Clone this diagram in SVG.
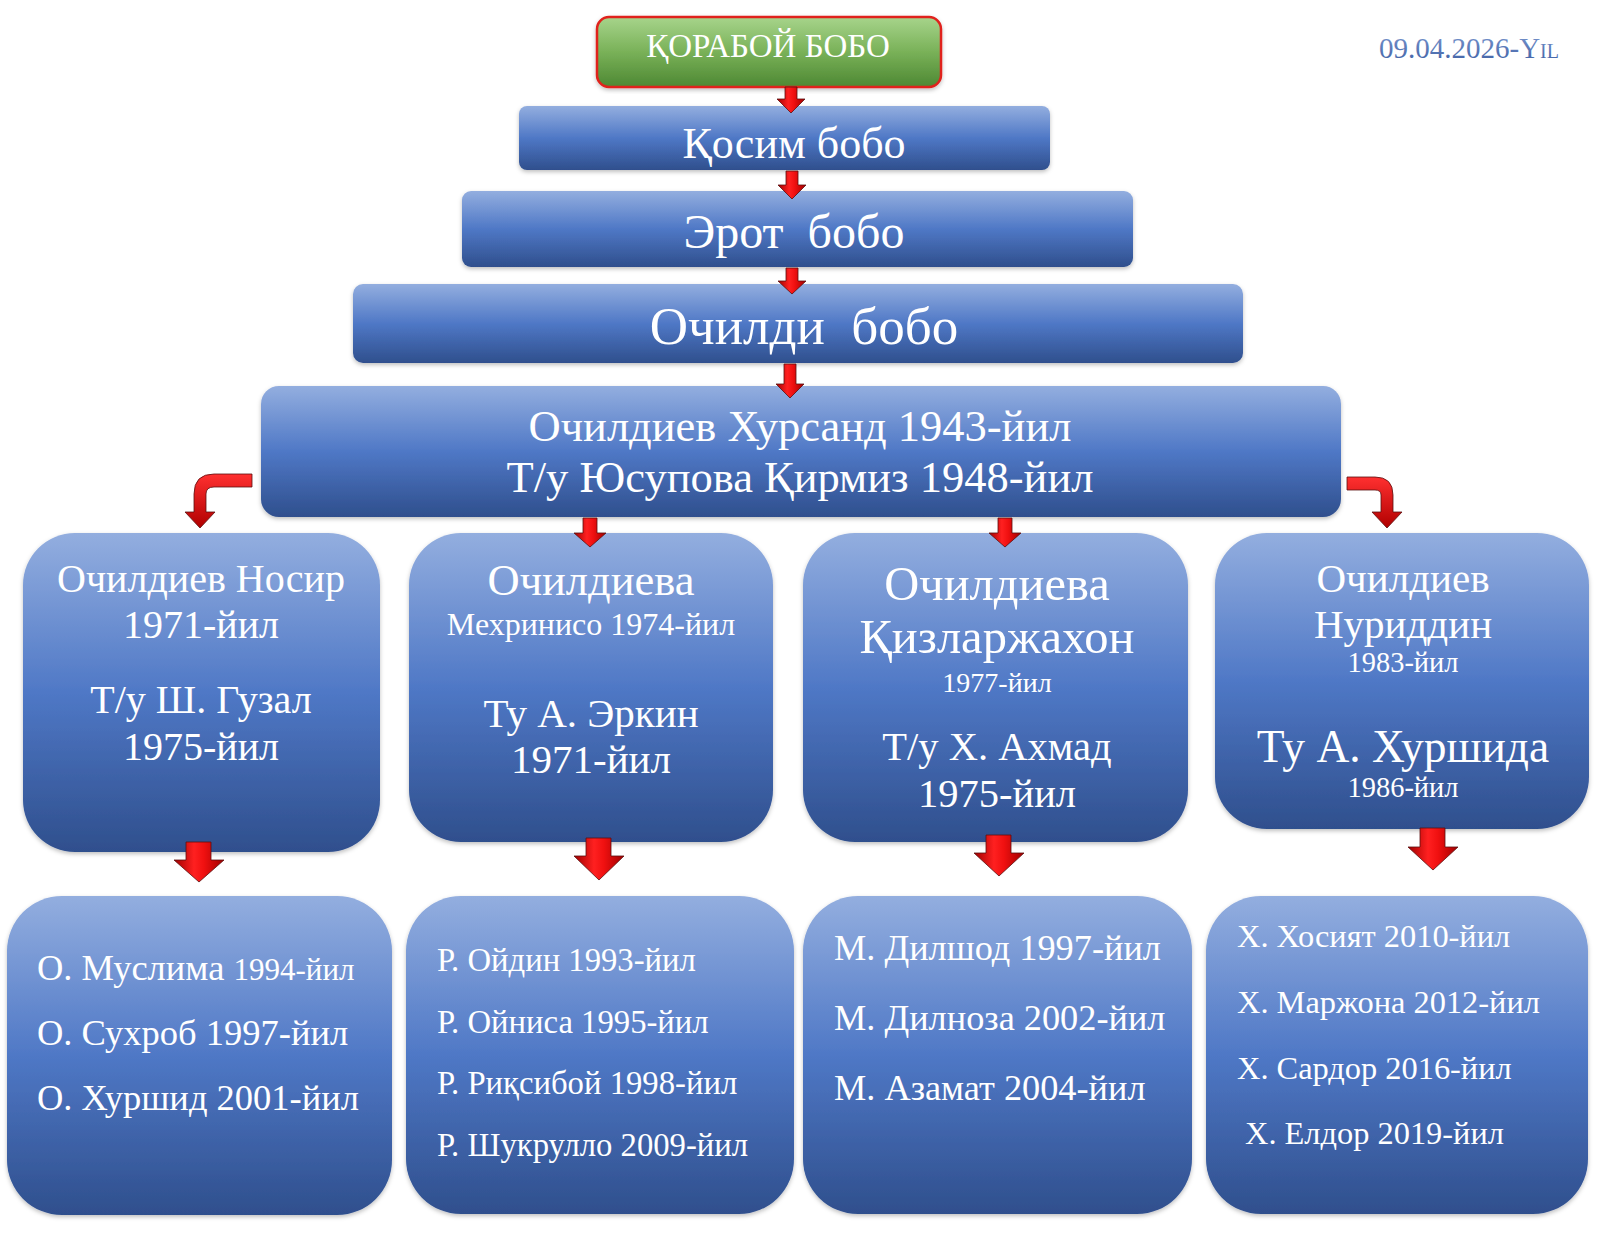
<svg xmlns="http://www.w3.org/2000/svg" width="1600" height="1236" viewBox="0 0 1600 1236">
<defs>
  <linearGradient id="blue" x1="0" y1="0" x2="0" y2="1">
    <stop offset="0" stop-color="#93aedf"/>
    <stop offset="0.5" stop-color="#4f78c6"/>
    <stop offset="1" stop-color="#2f4f8d"/>
  </linearGradient>
  <linearGradient id="green" x1="0" y1="0" x2="0" y2="1">
    <stop offset="0" stop-color="#a7d48b"/>
    <stop offset="0.5" stop-color="#79b158"/>
    <stop offset="1" stop-color="#4e8833"/>
  </linearGradient>
  <linearGradient id="red" x1="0" y1="0" x2="1" y2="0">
    <stop offset="0" stop-color="#a00000"/>
    <stop offset="0.4" stop-color="#ff2020"/>
    <stop offset="0.6" stop-color="#f01010"/>
    <stop offset="1" stop-color="#a00000"/>
  </linearGradient>
  <linearGradient id="redv" x1="0" y1="0" x2="0" y2="1">
    <stop offset="0" stop-color="#ff3030"/>
    <stop offset="1" stop-color="#b00000"/>
  </linearGradient>
  <linearGradient id="date" x1="0" y1="0" x2="0" y2="1">
    <stop offset="0" stop-color="#7b97cf"/>
    <stop offset="1" stop-color="#3d5fa3"/>
  </linearGradient>
  <filter id="sh" x="-5%" y="-5%" width="110%" height="115%">
    <feDropShadow dx="0" dy="2" stdDeviation="2" flood-color="#000" flood-opacity="0.25"/>
  </filter>
</defs>
<style>
  .box { fill: url(#blue); filter: url(#sh); }
  .t { font-family: "Liberation Serif", "Times New Roman", serif; fill: #ffffff; text-anchor: middle; }
  .l { font-family: "Liberation Serif", "Times New Roman", serif; fill: #ffffff; text-anchor: start; }
  .arr { fill: url(#red); stroke: #5a1010; stroke-width: 0.8; }
  .arrc { fill: url(#redv); stroke: #5a1010; stroke-width: 0.8; }
</style>
<rect width="1600" height="1236" fill="#ffffff"/>

<g id="date-label">
  <text x="1469" y="58" font-family="Liberation Serif, serif" font-size="29" font-variant="small-caps" fill="url(#date)" text-anchor="middle">09.04.2026-Yil</text>
</g>

<g id="node-qorabo">
  <rect x="597" y="17" width="344" height="70" rx="12" fill="url(#green)" stroke="#e0201c" stroke-width="2.5" filter="url(#sh)"/>
  <text class="t" x="768" y="57" font-size="33">ҚОРАБОЙ БОБО</text>
</g>
<g id="node-qosim">
  <rect class="box" x="519" y="106" width="531" height="64" rx="8"/>
  <text class="t" x="794" y="158" font-size="44">Қосим бобо</text>
</g>
<g id="node-erot">
  <rect class="box" x="462" y="191" width="671" height="76" rx="9"/>
  <text class="t" x="794" y="248" font-size="48" style="white-space:pre">Эрот  бобо</text>
</g>
<g id="node-ochildi">
  <rect class="box" x="353" y="284" width="890" height="79" rx="10"/>
  <text class="t" x="804" y="344" font-size="53" style="white-space:pre">Очилди  бобо</text>
</g>
<g id="node-xursand">
  <rect class="box" x="261" y="386" width="1080" height="131" rx="18"/>
  <text class="t" x="800" y="441" font-size="44.5">Очилдиев Хурсанд 1943-йил</text>
  <text class="t" x="800" y="492" font-size="44.5">Т/у Юсупова Қирмиз 1948-йил</text>
</g>

<g id="node-nosir">
  <rect class="box" x="23" y="533" width="357" height="319" rx="52"/>
  <text class="t" x="201" y="592" font-size="40">Очилдиев Носир</text>
  <text class="t" x="201" y="638" font-size="40">1971-йил</text>
  <text class="t" x="201" y="713" font-size="40">Т/у Ш. Гузал</text>
  <text class="t" x="201" y="760" font-size="40">1975-йил</text>
</g>
<g id="node-mehriniso">
  <rect class="box" x="409" y="533" width="364" height="309" rx="52"/>
  <text class="t" x="591" y="595" font-size="44.5">Очилдиева</text>
  <text class="t" x="591" y="635" font-size="32">Мехринисо 1974-йил</text>
  <text class="t" x="591" y="727" font-size="41">Ту А. Эркин</text>
  <text class="t" x="591" y="773" font-size="41">1971-йил</text>
</g>
<g id="node-qizlarjaxon">
  <rect class="box" x="803" y="533" width="385" height="309" rx="52"/>
  <text class="t" x="997" y="600" font-size="48.5">Очилдиева</text>
  <text class="t" x="997" y="653" font-size="48.5">Қизларжахон</text>
  <text class="t" x="997" y="692" font-size="28">1977-йил</text>
  <text class="t" x="997" y="760" font-size="40.5">Т/у Х. Ахмад</text>
  <text class="t" x="997" y="807" font-size="40.5">1975-йил</text>
</g>
<g id="node-nuriddin">
  <rect class="box" x="1215" y="533" width="374" height="296" rx="52"/>
  <text class="t" x="1403" y="592" font-size="41">Очилдиев</text>
  <text class="t" x="1403" y="638" font-size="41">Нуриддин</text>
  <text class="t" x="1403" y="672" font-size="28.4">1983-йил</text>
  <text class="t" x="1403" y="762" font-size="45.5">Ту А. Хуршида</text>
  <text class="t" x="1403" y="797" font-size="28.4">1986-йил</text>
</g>

<g id="node-children-nosir">
  <rect class="box" x="7" y="896" width="385" height="319" rx="55"/>
  <text class="l" x="37" y="980" font-size="36.5">О. Муслима <tspan font-size="31">1994-йил</tspan></text>
  <text class="l" x="37" y="1045" font-size="36.5">О. Сухроб 1997-йил</text>
  <text class="l" x="37" y="1110" font-size="36.5">О. Хуршид 2001-йил</text>
</g>
<g id="node-children-mehriniso">
  <rect class="box" x="406" y="896" width="388" height="318" rx="55"/>
  <text class="l" x="437" y="971" font-size="32.7">Р. Ойдин 1993-йил</text>
  <text class="l" x="437" y="1033" font-size="32.7">Р. Ойниса 1995-йил</text>
  <text class="l" x="437" y="1094" font-size="32.7">Р. Риқсибой 1998-йил</text>
  <text class="l" x="437" y="1156" font-size="32.7">Р. Шукрулло 2009-йил</text>
</g>
<g id="node-children-qizlarjaxon">
  <rect class="box" x="803" y="896" width="389" height="318" rx="55"/>
  <text class="l" x="834" y="960" font-size="36.3">М. Дилшод 1997-йил</text>
  <text class="l" x="834" y="1030" font-size="36.3">М. Дилноза 2002-йил</text>
  <text class="l" x="834" y="1100" font-size="36.3">М. Азамат 2004-йил</text>
</g>
<g id="node-children-nuriddin">
  <rect class="box" x="1206" y="896" width="382" height="318" rx="55"/>
  <text class="l" x="1237" y="947" font-size="32.4">Х. Хосият 2010-йил</text>
  <text class="l" x="1237" y="1013" font-size="32.4">Х. Маржона 2012-йил</text>
  <text class="l" x="1237" y="1079" font-size="32.4">Х. Сардор 2016-йил</text>
  <text class="l" x="1245" y="1144" font-size="32.4">Х. Елдор 2019-йил</text>
</g>

<g id="connectors">
  <path class="arr" d="M785 87 h12 v12 h8 l-14 14 l-14 -14 h8 z"/>
  <path class="arr" d="M786 171 h12 v14 h8 l-14 14 l-14 -14 h8 z"/>
  <path class="arr" d="M786 268 h12 v13 h8 l-14 13 l-14 -13 h8 z"/>
  <path class="arr" d="M784 364 h12 v20 h8 l-14 14 l-14 -14 h8 z"/>
  <path class="arrc" d="M252 474 L214 474 Q194 474 194 494 L194 512 L185 512 L200 528 L215 512 L206 512 L206 494 Q206 487 214 487 L252 487 Z"/>
  <path class="arrc" d="M1347 477 L1375 477 Q1393 477 1393 495 L1393 512 L1402 512 L1387 528 L1372 512 L1381 512 L1381 495 Q1381 490 1375 490 L1347 490 Z"/>
  <path class="arr" d="M583 518 h14 v15 h9 l-16 14 l-16 -14 h9 z"/>
  <path class="arr" d="M998 518 h14 v15 h9 l-16 14 l-16 -14 h9 z"/>
  <path class="arr" d="M186 842 h25 v18 h13 l-25 22 l-25 -22 h12 z"/>
  <path class="arr" d="M586 838 h25 v18 h13 l-25 24 l-25 -24 h12 z"/>
  <path class="arr" d="M986 835 h25 v18 h13 l-25 23 l-25 -23 h12 z"/>
  <path class="arr" d="M1420 828 h25 v19 h13 l-25 23 l-25 -23 h12 z"/>
</g>
</svg>
